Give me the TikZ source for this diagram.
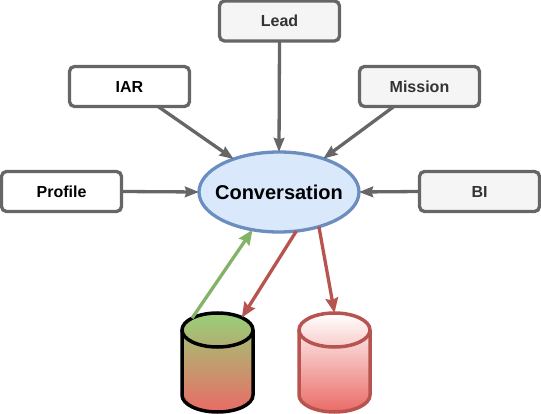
\documentclass[tikz,border=0pt]{standalone}
\usepackage{fontspec}
\setmainfont{Liberation Sans}
\usetikzlibrary{arrows.meta,shapes.geometric}
\definecolor{boxgray}{HTML}{666666}
\definecolor{softfill}{HTML}{F5F5F5}
\definecolor{softtext}{HTML}{333333}
\definecolor{bluefill}{HTML}{DAE8FC}
\definecolor{bluestroke}{HTML}{6C8EBF}
\definecolor{greenstroke}{HTML}{82B366}
\definecolor{greenfill}{HTML}{97D077}
\definecolor{redstroke}{HTML}{B85450}
\definecolor{redfill}{HTML}{EA6B66}
\tikzset{
  plainbox/.style={draw=boxgray,fill=white,line width=3.3pt,rounded corners=5pt,minimum width=120pt,minimum height=40pt,inner sep=0pt,outer sep=0pt,font=\fontsize{16}{19}\selectfont\bfseries,text=black},
  softbox/.style={plainbox,fill=softfill,text=softtext},
  hub/.style={ellipse,draw=bluestroke,fill=bluefill,line width=3.3pt,minimum width=160pt,minimum height=80pt,inner sep=0pt,outer sep=0pt,font=\fontsize{20}{24}\selectfont\bfseries},
  cyltop/.style={ellipse,line width=3.5pt,minimum width=71pt,minimum height=34pt,inner sep=0pt,outer sep=0pt},
  link/.style={line width=3.3pt},
  graylink/.style={link,draw=boxgray,-{Stealth[length=14pt,width=10.5pt,inset=1.5pt]}},
  redlink/.style={link,draw=redstroke,-{Stealth[length=15pt,width=12.5pt,inset=2pt]}},
  greenlink/.style={link,draw=greenstroke,-{Stealth[length=15pt,width=12.5pt,inset=2pt]}}
}
\begin{document}
\begin{tikzpicture}[x=1pt,y=-1pt]
\useasboundingbox (0,0) rectangle (541,414);
\node[softbox] (lead) at (279.5,21) {Lead};
\node[plainbox] (iar) at (129.5,86.5) {IAR};
\node[softbox] (mission) at (419.5,86.5) {Mission};
\node[plainbox] (profile) at (61.5,191.5) {Profile};
\node[softbox] (bi) at (479.5,191.5) {BI};
\node[hub] (conv) at (279,192) {\makebox[0pt]{Conversation}};
% cylinder bodies
\path[top color=greenfill,bottom color=redfill]
  (182,330) arc[start angle=180,end angle=0,x radius=35.5,y radius=-17]
  -- (253,395) arc[start angle=0,end angle=-180,x radius=35.5,y radius=-17] -- cycle;
\draw[black,line width=3.5pt]
  (182,330) -- (182,395) arc[start angle=180,end angle=0,x radius=35.5,y radius=17] -- (253,330);
\node[cyltop,draw=black] (db1) at (217.5,330) {};
\path[top color=white,bottom color=redfill]
  (299,330) arc[start angle=180,end angle=0,x radius=35.5,y radius=-17]
  -- (370,395) arc[start angle=0,end angle=-180,x radius=35.5,y radius=-17] -- cycle;
\draw[redstroke,line width=3.5pt]
  (299,330) -- (299,395) arc[start angle=180,end angle=0,x radius=35.5,y radius=17] -- (370,330);
\node[cyltop,draw=redstroke] (db2) at (334.5,330) {};
% connectors
\draw[graylink] (lead.south) -- (conv.north);
\draw[graylink] (iar.-35) -- (conv.144);
\draw[graylink] (mission.218) -- (conv.37);
\draw[graylink] (profile.east) -- (conv.west);
\draw[graylink] (bi.west) -- (conv.east);
\draw[greenlink] (db1.155) -- (conv.235.6);
\draw[redlink] (conv.-66.4) -- (db1.27);
\draw[redlink] (conv.-41.2) -- (db2.north);
\end{tikzpicture}
\end{document}
